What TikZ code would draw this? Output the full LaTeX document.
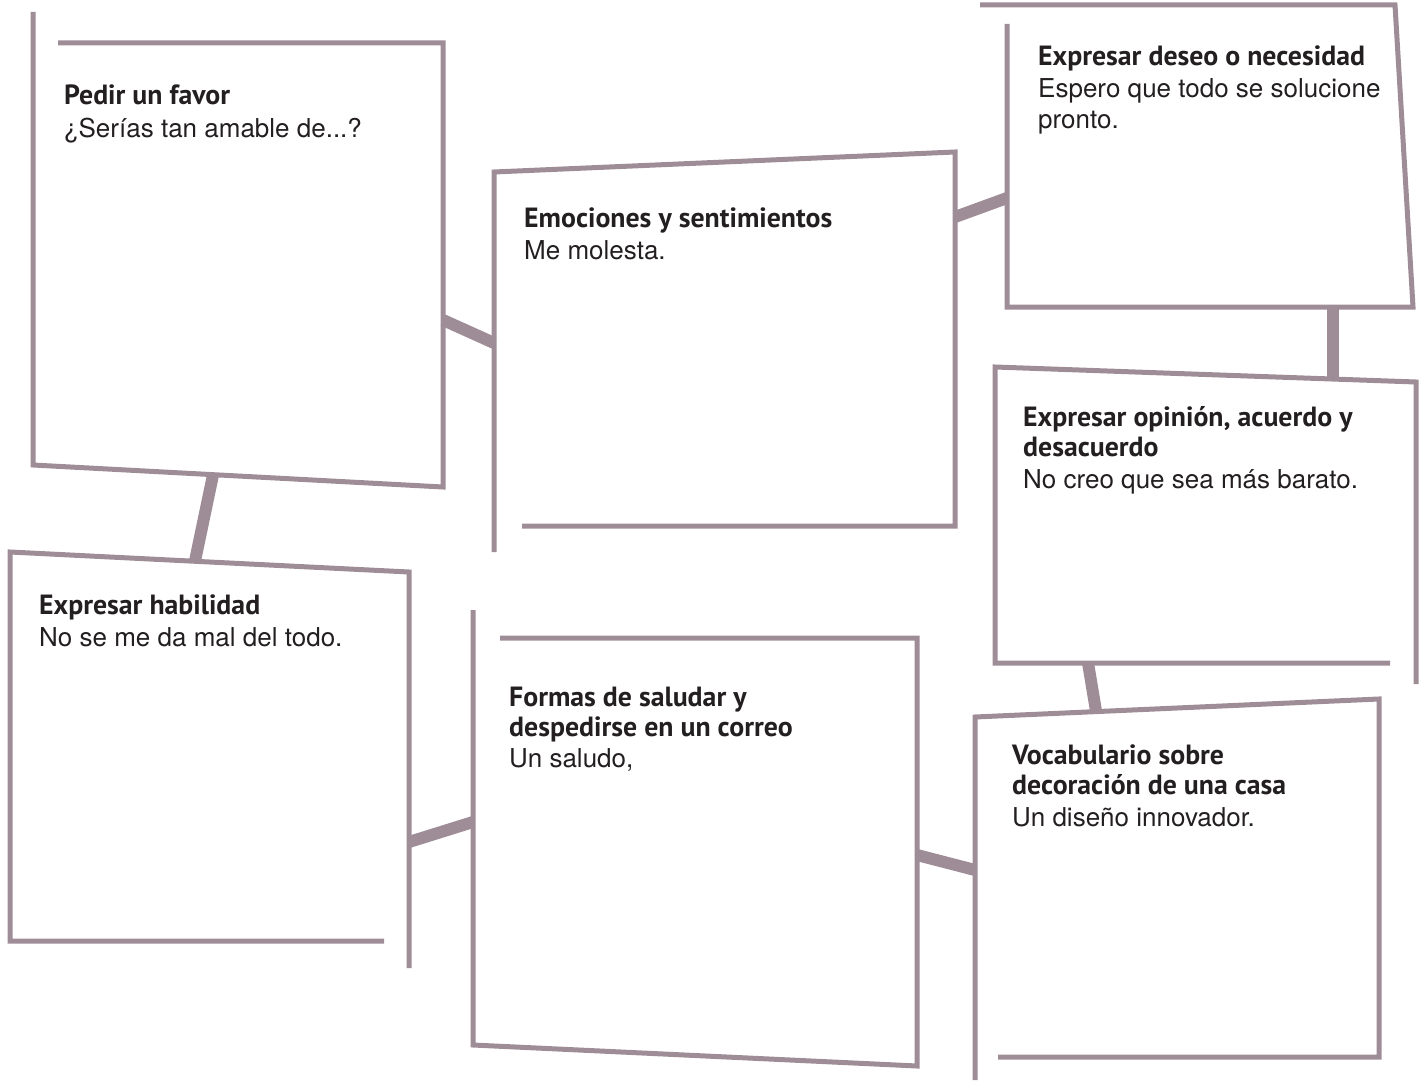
\documentclass[tikz,border=0pt]{standalone}
\usepackage{fontspec}
\setmainfont{TeX Gyre Heros}
\newfontfamily\headfont{PT Sans}
\definecolor{mauve}{RGB}{158,141,151}
\definecolor{ink}{RGB}{35,31,32}
\newcommand\cardhead[1]{{\headfont\bfseries\fontsize{27.8}{30}\selectfont #1}}

\begin{document}
\begin{tikzpicture}[x=1pt,y=-1pt,
                    frame/.style={draw=mauve,line width=5pt,line join=miter},
                    link/.style={draw=mauve,line width=12pt},
                    card/.style={anchor=north west,inner sep=0pt,align=left,text=ink,
                      font=\fontsize{26}{30}\selectfont,execute at begin node=\rule{0pt}{22pt}}]
\useasboundingbox (0,0) rectangle (1422,1081);
%%%%%
\node[card] (pf) at (64,85)   {\cardhead{Pedir un favor}\\[2.5pt] ¿Serías tan amable de...?};
  \node[card] (em) at (524,208) {\cardhead{Emociones y sentimientos}\\[1.5pt] Me molesta.};
  \node[card] (ds) at (1038,46) {\cardhead{Expresar deseo o necesidad}\\[2pt] Espero que todo se solucione\\[1pt] pronto.};
 \node[card] (op) at (1023,406) {\cardhead{Expresar opinión, acuerdo y}\\ \cardhead{desacuerdo}\\[2.5pt] No creo que sea más barato.};
  \node[card] (hb) at (39,595) {\cardhead{Expresar habilidad}\\[2pt] No se me da mal del todo.};
  \node[card] (fs) at (509,687) {\cardhead{Formas de saludar y}\\ \cardhead{despedirse en un correo}\\[1pt] Un saludo,};
 \node[card] (vc) at (1012,745) {\cardhead{Vocabulario sobre}\\ \cardhead{decoración de una casa}\\[2pt] Un diseño innovador.};
%%%%%%% frames
\draw[frame] (58,43) -- (443,43) -- (443,487) -- (33,465) -- (33,12);
\draw[frame] (494,552) -- (494,172) -- (955,152) -- (955,526) -- (522,526);
\draw[frame] (980,5) -- (1395,5) -- (1413,307) -- (1007,307) -- (1007,24);
\draw[frame] (1390,663) -- (995,663) -- (995,367) -- (1416,382) -- (1416,684);
\draw[frame] (384,941) -- (10,941) -- (10,552) -- (409,572) -- (409,968);
\draw[frame] (500,638) -- (917,638) -- (917,1066) -- (473,1045) -- (473,610);
\draw[frame] (998,1057) -- (1379,1057) -- (1379,699) -- (975,717) -- (975,1080);
%%%%%%% link ends
\coordinate (pf-s) at (213,475);  \coordinate (hb-n) at (195,561);
\coordinate (pf-e) at (443,320);  \coordinate (em-w) at (494,343);
\coordinate (em-e) at (955,217);  \coordinate (ds-w) at (1007,198);
\coordinate (ds-s) at (1333,307); \coordinate (op-n) at (1333,379);
\coordinate (op-s) at (1088,663); \coordinate (vc-n) at (1096,711);
\coordinate (hb-e) at (409,842);  \coordinate (fs-w) at (473,822);
\coordinate (fs-e) at (917,855);  \coordinate (vc-w) at (975,870);
%%%%%%%
\path[link]
  (pf-s) edge (hb-n)
  (pf-e) edge (em-w)
  (em-e) edge (ds-w)
  (ds-s) edge (op-n)
  (op-s) edge (vc-n)
  (hb-e) edge (fs-w)
  (fs-e) edge (vc-w);
\end{tikzpicture}
\end{document}
